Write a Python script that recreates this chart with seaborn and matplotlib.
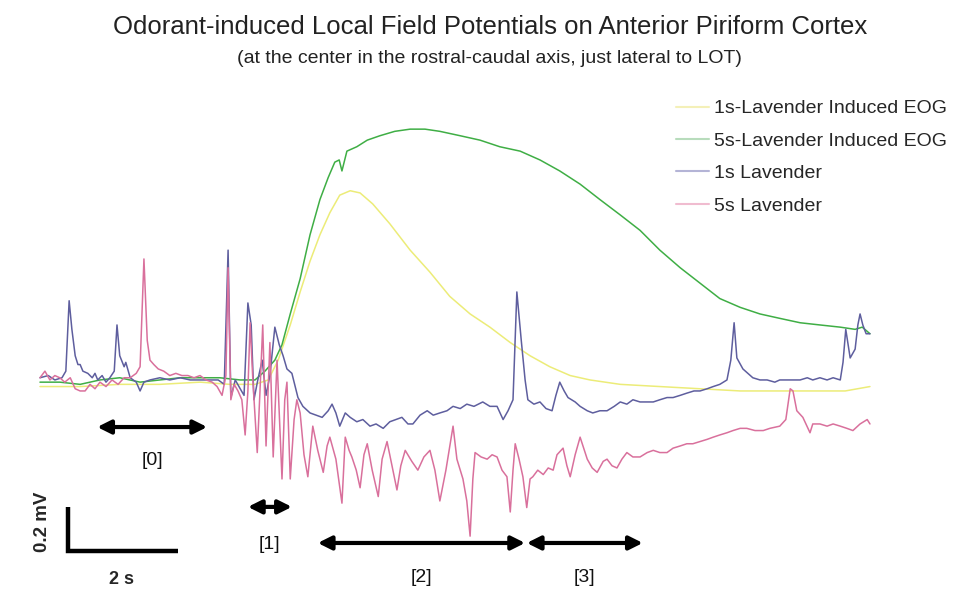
import pandas as pd
import matplotlib.pyplot as plt
import seaborn as sns
from matplotlib.lines import Line2D

# data: time (s) and voltage (mV)
eog1_t = [0.00, 0.73, 1.45, 2.18, 2.91, 3.45, 3.91, 4.15, 4.33, 4.55, 4.73, 4.91, 5.09, 5.27,
          5.45, 5.64, 5.82, 6.05, 6.36, 6.73, 7.09, 7.45, 7.82, 8.18, 8.55, 8.91, 9.27, 9.64,
          10.00, 10.55, 11.27, 12.00, 12.73, 13.45, 14.18, 14.64, 15.09]
eog1_v = [-0.03, -0.03, -0.02, -0.02, -0.01, -0.02, -0.02, 0.00, 0.09, 0.25, 0.40, 0.54, 0.66, 0.76,
          0.84, 0.86, 0.85, 0.80, 0.71, 0.59, 0.49, 0.38, 0.30, 0.24, 0.17, 0.11, 0.06, 0.02,
          0.00, -0.02, -0.03, -0.04, -0.05, -0.05, -0.05, -0.05, -0.03]

eog5_t = [0.00, 0.36, 0.73, 1.09, 1.45, 1.82, 2.18, 2.55, 2.91, 3.27, 3.64, 3.91, 4.09, 4.27,
          4.40, 4.55, 4.73, 4.91, 5.09, 5.24, 5.36, 5.44, 5.49, 5.58, 5.76, 5.95, 6.18, 6.45,
          6.73, 7.00, 7.27, 7.64, 8.00, 8.36, 8.73, 9.09, 9.45, 9.82, 10.18, 10.55, 10.91,
          11.27, 11.64, 12.00, 12.36, 12.73, 13.09, 13.45, 13.82, 14.18, 14.55, 14.82, 14.95, 15.09]
eog5_v = [-0.01, -0.01, -0.02, 0.00, 0.01, -0.01, 0.00, 0.01, 0.01, 0.01, 0.00, 0.00, 0.04, 0.09,
          0.16, 0.30, 0.46, 0.66, 0.82, 0.92, 0.99, 1.00, 0.95, 1.04, 1.06, 1.09, 1.11, 1.13,
          1.14, 1.14, 1.13, 1.11, 1.09, 1.06, 1.04, 1.00, 0.95, 0.89, 0.82, 0.75, 0.68,
          0.59, 0.51, 0.44, 0.37, 0.33, 0.30, 0.28, 0.26, 0.25, 0.24, 0.23, 0.24, 0.21]

lfp1_t = [0.00, 0.15, 0.27, 0.40, 0.47, 0.53, 0.58, 0.64, 0.69, 0.73, 0.78, 0.87, 0.95, 1.00,
          1.05, 1.13, 1.20, 1.27, 1.35, 1.40, 1.45, 1.53, 1.56, 1.64, 1.75, 1.82, 1.89, 2.00,
          2.18, 2.36, 2.55, 2.73, 2.91, 3.09, 3.24, 3.35, 3.42, 3.47, 3.55, 3.64, 3.71, 3.78,
          3.84, 3.89, 3.96, 4.04, 4.11, 4.18, 4.27, 4.35, 4.42, 4.49, 4.58, 4.69, 4.78, 4.91,
          5.02, 5.13, 5.24, 5.31, 5.38, 5.45, 5.55, 5.64, 5.76, 5.87, 6.00, 6.11, 6.24, 6.36,
          6.47, 6.58, 6.69, 6.78, 6.91, 7.04, 7.15, 7.27, 7.40, 7.51, 7.64, 7.76, 7.89, 8.05,
          8.18, 8.31, 8.42, 8.51, 8.60, 8.67, 8.75, 8.82, 8.87, 8.98, 9.09, 9.20, 9.31, 9.38,
          9.45, 9.53, 9.60, 9.73, 9.82, 9.95, 10.05, 10.18, 10.31, 10.44, 10.55, 10.67, 10.78,
          10.91, 11.04, 11.15, 11.27, 11.40, 11.51, 11.64, 11.76, 11.89, 12.00, 12.13, 12.24,
          12.36, 12.49, 12.56, 12.62, 12.67, 12.78, 12.87, 12.96, 13.09, 13.22, 13.36, 13.45,
          13.58, 13.69, 13.82, 13.95, 14.05, 14.18, 14.31, 14.42, 14.55, 14.60, 14.65, 14.73,
          14.82, 14.87, 14.91, 14.96, 15.02, 15.09]
lfp1_v = [0.01, 0.02, 0.00, 0.01, 0.04, 0.36, 0.23, 0.11, 0.07, 0.07, 0.04, 0.03, 0.01, 0.03,
          0.00, 0.02, -0.01, 0.01, 0.04, 0.25, 0.11, 0.06, 0.08, 0.01, -0.01, -0.05, -0.01, 0.00,
          0.01, 0.00, 0.01, 0.00, 0.00, 0.00, 0.00, -0.02, 0.59, -0.08, 0.00, -0.04, -0.07, 0.35,
          0.25, -0.09, 0.00, 0.09, -0.07, 0.02, 0.24, 0.16, 0.11, 0.05, 0.03, -0.08, -0.12, -0.15,
          -0.16, -0.17, -0.14, -0.11, -0.15, -0.21, -0.15, -0.17, -0.19, -0.18, -0.21, -0.20, -0.22, -0.19,
          -0.18, -0.17, -0.20, -0.20, -0.16, -0.14, -0.16, -0.15, -0.14, -0.12, -0.13, -0.11, -0.12, -0.10,
          -0.12, -0.12, -0.18, -0.14, -0.09, 0.40, 0.18, 0.00, -0.09, -0.11, -0.10, -0.13, -0.14, -0.07,
          -0.01, -0.05, -0.08, -0.10, -0.12, -0.14, -0.15, -0.14, -0.14, -0.12, -0.10, -0.11, -0.09,
          -0.10, -0.10, -0.10, -0.09, -0.08, -0.08, -0.07, -0.06, -0.05, -0.05, -0.04, -0.03,
          -0.02, 0.00, 0.09, 0.26, 0.10, 0.05, 0.03, 0.01, 0.00, 0.00, -0.01, 0.00,
          0.00, 0.00, 0.00, 0.01, 0.00, 0.01, 0.00, 0.01, 0.00, 0.08, 0.23, 0.10,
          0.14, 0.25, 0.30, 0.25, 0.21, 0.21]

lfp5_t = [0.00, 0.09, 0.18, 0.27, 0.36, 0.45, 0.55, 0.64, 0.73, 0.82, 0.91, 1.00, 1.09, 1.20,
          1.31, 1.42, 1.53, 1.64, 1.75, 1.82, 1.89, 1.95, 2.00, 2.07, 2.15, 2.25, 2.36, 2.47,
          2.58, 2.69, 2.80, 2.91, 3.02, 3.13, 3.22, 3.31, 3.38, 3.42, 3.47, 3.53, 3.60, 3.67,
          3.73, 3.78, 3.82, 3.87, 3.95, 4.00, 4.05, 4.11, 4.18, 4.24, 4.31, 4.40, 4.45, 4.49,
          4.55, 4.62, 4.67, 4.73, 4.80, 4.87, 4.96, 5.05, 5.15, 5.22, 5.27, 5.38, 5.49, 5.55,
          5.62, 5.67, 5.75, 5.82, 5.89, 5.95, 6.04, 6.15, 6.22, 6.31, 6.40, 6.49, 6.56, 6.64,
          6.76, 6.87, 6.98, 7.09, 7.18, 7.27, 7.38, 7.51, 7.58, 7.69, 7.76, 7.82, 7.87, 7.91,
          8.02, 8.13, 8.22, 8.31, 8.40, 8.49, 8.55, 8.60, 8.64, 8.71, 8.78, 8.85, 8.91, 8.96,
          9.05, 9.15, 9.24, 9.33, 9.40, 9.51, 9.58, 9.64, 9.73, 9.82, 9.95, 10.04, 10.13, 10.24,
          10.31, 10.40, 10.49, 10.58, 10.67, 10.78, 10.91, 11.04, 11.15, 11.27, 11.40, 11.51,
          11.64, 11.76, 11.87, 12.00, 12.13, 12.24, 12.36, 12.49, 12.60, 12.73, 12.85, 13.00,
          13.15, 13.27, 13.45, 13.56, 13.64, 13.69, 13.76, 13.87, 14.00, 14.05, 14.18, 14.31,
          14.42, 14.55, 14.67, 14.78, 14.91, 15.04, 15.09]
lfp5_v = [0.01, 0.04, 0.00, 0.02, 0.01, -0.01, 0.01, -0.04, -0.05, -0.05, -0.02, -0.04, -0.01, -0.03,
          0.00, -0.02, 0.01, 0.01, 0.03, 0.06, 0.55, 0.18, 0.09, 0.07, 0.05, 0.04, 0.02, 0.03,
          0.02, 0.02, 0.01, 0.02, 0.00, -0.01, -0.03, -0.07, 0.02, 0.51, -0.09, -0.02, -0.05, -0.09,
          -0.25, -0.05, 0.26, 0.00, -0.33, -0.05, 0.25, -0.30, 0.17, -0.35, 0.09, -0.45, -0.09, -0.01,
          -0.45, -0.18, -0.09, -0.15, -0.34, -0.44, -0.21, -0.32, -0.42, -0.30, -0.26, -0.36, -0.56, -0.26,
          -0.32, -0.35, -0.41, -0.49, -0.34, -0.29, -0.41, -0.53, -0.36, -0.28, -0.39, -0.50, -0.39, -0.32,
          -0.37, -0.41, -0.35, -0.32, -0.41, -0.55, -0.41, -0.21, -0.36, -0.45, -0.55, -0.71, -0.45, -0.33,
          -0.35, -0.36, -0.34, -0.35, -0.41, -0.44, -0.60, -0.41, -0.29, -0.36, -0.44, -0.58, -0.45, -0.44,
          -0.41, -0.43, -0.40, -0.41, -0.34, -0.31, -0.39, -0.44, -0.34, -0.26, -0.36, -0.40, -0.42, -0.37,
          -0.36, -0.39, -0.40, -0.36, -0.33, -0.35, -0.35, -0.33, -0.32, -0.33, -0.33, -0.31,
          -0.30, -0.29, -0.29, -0.28, -0.27, -0.26, -0.25, -0.24, -0.23, -0.22, -0.22, -0.23,
          -0.23, -0.22, -0.21, -0.18, -0.04, -0.05, -0.14, -0.17, -0.24, -0.20, -0.20, -0.21,
          -0.20, -0.21, -0.22, -0.23, -0.20, -0.18, -0.20]

labels = ["1s-Lavender Induced EOG", "5s-Lavender Induced EOG", "1s Lavender", "5s Lavender"]
colors = ["#ecec78", "#3fae45", "#5e5e9e", "#d9709c"]
legend_colors = ["#f4f0b8", "#b8dcbc", "#b4b4d6", "#f0bcd0"]

df = pd.concat([
    pd.DataFrame({"t": eog1_t, "mV": eog1_v, "trace": labels[0]}),
    pd.DataFrame({"t": eog5_t, "mV": eog5_v, "trace": labels[1]}),
    pd.DataFrame({"t": lfp1_t, "mV": lfp1_v, "trace": labels[2]}),
    pd.DataFrame({"t": lfp5_t, "mV": lfp5_v, "trace": labels[3]}),
])

sns.set_style("white")
plt.rcParams["font.family"] = ["Liberation Sans", "DejaVu Sans"]

fig = plt.figure(figsize=(9.55, 5.96), dpi=100)
ax = fig.add_axes([0, 0, 1, 1])
sns.lineplot(data=df, x="t", y="mV", hue="trace", palette=dict(zip(labels, colors)),
             estimator=None, sort=False, legend=False, linewidth=1.1, ax=ax)
ax.set_xlim(-0.727, 16.636)
ax.set_ylim(-0.982, 1.727)
ax.axis("off")

# titles
fig.text(0.513, 0.955, "Odorant-induced Local Field Potentials on Anterior Piriform Cortex",
         ha="center", va="center", fontsize=18.5, color="#222222")
fig.text(0.513, 0.902, "(at the center in the rostral-caudal axis, just lateral to LOT)",
         ha="center", va="center", fontsize=14, color="#222222")

# legend
handles = [Line2D([], [], color=c, lw=1.5) for c in legend_colors]
ax.legend(handles, labels, loc="upper left", bbox_to_anchor=(0.69, 0.862),
          bbox_transform=fig.transFigure, frameon=False, fontsize=14,
          handlelength=1.65, handletextpad=0.3, labelspacing=0.76, borderpad=0.4)

# scale bar
ax.plot([0.51, 0.51, 2.51], [-0.577, -0.777, -0.777], color="black", lw=3.2,
        solid_joinstyle="miter", solid_capstyle="butt")
ax.text(1.49, -0.905, "2 s", ha="center", va="center", fontsize=13, fontweight="bold")
ax.text(0.04, -0.645, "0.2 mV", ha="center", va="center", fontsize=13.5, fontweight="bold",
        rotation=90)

# analysis windows
windows = [("[0]", 1.04, 3.04, -0.214, -0.364),
           ("[1]", 3.78, 4.58, -0.577, -0.75),
           ("[2]", 5.05, 8.82, -0.741, -0.90),
           ("[3]", 8.85, 10.96, -0.741, -0.90)]
for name, t0, t1, va, vl in windows:
    ax.annotate("", xy=(t1, va), xytext=(t0, va),
                arrowprops=dict(arrowstyle="<|-|>", lw=3, color="black",
                                mutation_scale=20, shrinkA=0, shrinkB=0))
    ax.text((t0 + t1) / 2, vl, name, ha="center", va="center", fontsize=14, color="#111111")

fig.savefig("out.png", dpi=100)
